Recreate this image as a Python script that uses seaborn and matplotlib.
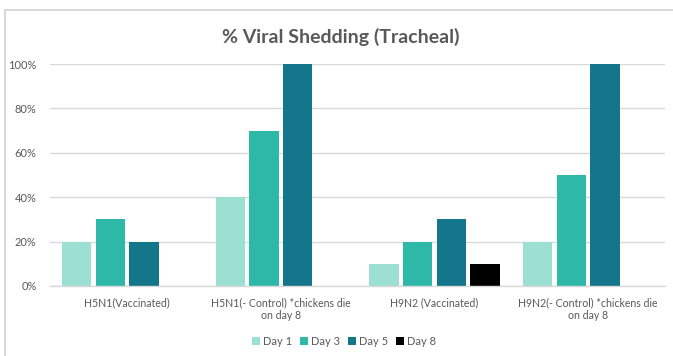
import matplotlib
matplotlib.use("Agg")
import matplotlib.pyplot as plt
import seaborn as sns
import pandas as pd
from matplotlib.patches import Rectangle

# Percentage of birds shedding virus (tracheal swabs) per group and day
groups = [
    "H5N1(Vaccinated)",
    "H5N1(- Control) *chickens die\non day 8",
    "H9N2 (Vaccinated)",
    "H9N2(- Control) *chickens die\non day 8",
]
days = ["Day 1", "Day 3", "Day 5", "Day 8"]
day1 = [20, 40, 10, 20]
day3 = [30, 70, 20, 50]
day5 = [20, 100, 30, 100]
day8 = [0, 0, 10, 0]
yticks = [0, 20, 40, 60, 80, 100]
ytick_labels = ["0%", "20%", "40%", "60%", "80%", "100%"]

palette = ["#9be0d2", "#2eb8a8", "#13768a", "#000000"]

rows = []
for day, vals in zip(days, [day1, day3, day5, day8]):
    for g, v in zip(groups, vals):
        rows.append({"group": g, "day": day, "value": v})
df = pd.DataFrame(rows)

sns.set_theme(style="white")
plt.rcParams["font.family"] = ["Lato", "DejaVu Sans"]

fig = plt.figure(figsize=(6.73, 3.56), dpi=100)
ax = fig.add_axes([0.075, 0.197, 0.913, 0.623])

sns.barplot(
    data=df, x="group", y="value", hue="day", order=groups, hue_order=days,
    palette=palette, width=0.876, gap=0.13, saturation=1, ax=ax,
    legend=True, linewidth=0,
)

ax.set_ylim(0, 100)
ax.set_xlim(-0.5, len(groups) - 0.5)
ax.set_yticks(yticks)
ax.set_yticklabels(ytick_labels)
ax.yaxis.grid(True, color="#d9d9d9", linewidth=1)
ax.set_axisbelow(True)
for s in ["top", "right", "left"]:
    ax.spines[s].set_visible(False)
ax.spines["bottom"].set_color("#d9d9d9")
ax.spines["bottom"].set_linewidth(1)
ax.tick_params(axis="both", length=0, colors="#595959", labelsize=8)
ax.tick_params(axis="x", labelsize=7.6, pad=8)
ax.tick_params(axis="y", pad=10)
ax.set_xlabel("")
ax.set_ylabel("")

# Legend across the bottom
handles, labels = ax.get_legend_handles_labels()
ax.legend_.remove()
fig.legend(handles, labels, loc="center", bbox_to_anchor=(0.511, 0.04), ncol=4,
           frameon=False, fontsize=8, handlelength=0.7, handleheight=0.7,
           handletextpad=0.3, columnspacing=0.7, labelcolor="#595959")

fig.text(0.507, 0.895, "% Viral Shedding (Tracheal)", ha="center", va="center",
         fontsize=14, fontweight="bold", color="#595959")

# Chart area border
fig.patches.append(Rectangle((0.0074, -0.05), 1.1, 1.022, transform=fig.transFigure,
                             fill=False, edgecolor="#d9d9d9", linewidth=1.5))

fig.savefig("out.png", dpi=100, facecolor="white")
